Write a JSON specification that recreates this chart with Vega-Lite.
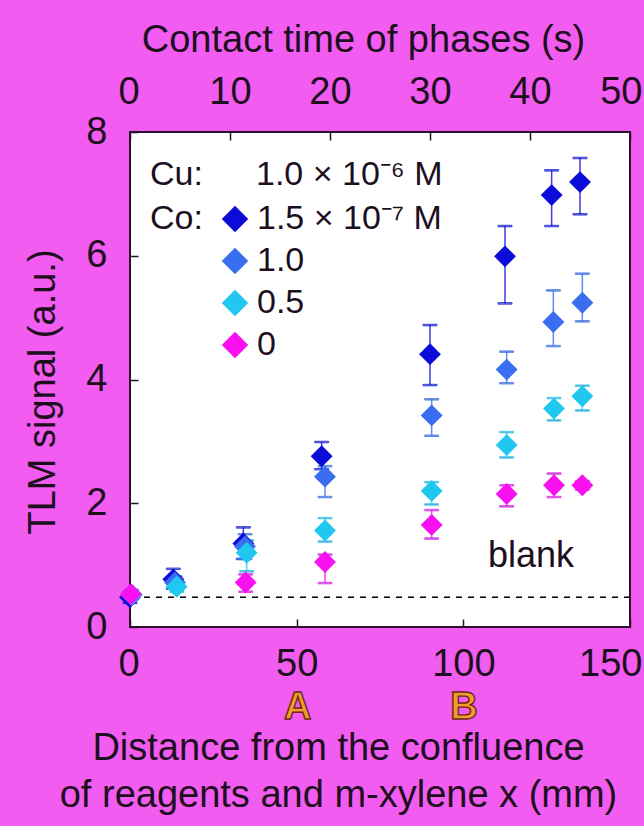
{
  "$schema": "https://vega.github.io/schema/vega-lite/v6.json",
  "width": 500,
  "height": 495,
  "autosize": "none",
  "padding": {"left": 130, "top": 132, "right": 14, "bottom": 199},
  "background": "#f25cf0",
  "config": {
    "view": {"fill": "white", "stroke": "#2a102a", "strokeWidth": 2},
    "font": "Liberation Sans"
  },
  "datasets": {
    "tlm": [
      {"co": "1.5 × 10⁻⁷ M", "x": 0, "y": 0.48, "lo": 0.39, "hi": 0.57},
      {"co": "1.5 × 10⁻⁷ M", "x": 13, "y": 0.77, "lo": 0.62, "hi": 0.94},
      {"co": "1.5 × 10⁻⁷ M", "x": 34, "y": 1.35, "lo": 1.1, "hi": 1.61},
      {"co": "1.5 × 10⁻⁷ M", "x": 57.5, "y": 2.76, "lo": 2.55, "hi": 2.99},
      {"co": "1.5 × 10⁻⁷ M", "x": 90, "y": 4.41, "lo": 3.91, "hi": 4.88},
      {"co": "1.5 × 10⁻⁷ M", "x": 112.5, "y": 5.99, "lo": 5.23, "hi": 6.48},
      {"co": "1.5 × 10⁻⁷ M", "x": 126.5, "y": 6.98, "lo": 6.48, "hi": 7.38},
      {"co": "1.5 × 10⁻⁷ M", "x": 135, "y": 7.19, "lo": 6.67, "hi": 7.58},
      {"co": "1.0", "x": 0.5, "y": 0.52, "lo": 0.45, "hi": 0.6},
      {"co": "1.0", "x": 13.5, "y": 0.72, "lo": 0.62, "hi": 0.82},
      {"co": "1.0", "x": 34.5, "y": 1.3, "lo": 1.1, "hi": 1.5},
      {"co": "1.0", "x": 58.5, "y": 2.43, "lo": 2.1, "hi": 2.6},
      {"co": "1.0", "x": 90.5, "y": 3.42, "lo": 3.09, "hi": 3.68},
      {"co": "1.0", "x": 113, "y": 4.16, "lo": 3.94, "hi": 4.45},
      {"co": "1.0", "x": 127, "y": 4.93, "lo": 4.54, "hi": 5.44},
      {"co": "1.0", "x": 135.7, "y": 5.24, "lo": 4.94, "hi": 5.71},
      {"co": "0.5", "x": 0.5, "y": 0.52, "lo": null, "hi": null},
      {"co": "0.5", "x": 14, "y": 0.65, "lo": 0.57, "hi": 0.75},
      {"co": "0.5", "x": 35, "y": 1.2, "lo": 0.9, "hi": 1.4},
      {"co": "0.5", "x": 58.5, "y": 1.56, "lo": 1.38, "hi": 1.76},
      {"co": "0.5", "x": 90.5, "y": 2.2, "lo": 1.98, "hi": 2.34},
      {"co": "0.5", "x": 113, "y": 2.94, "lo": 2.74, "hi": 3.15},
      {"co": "0.5", "x": 127.2, "y": 3.53, "lo": 3.34, "hi": 3.7},
      {"co": "0.5", "x": 135.7, "y": 3.73, "lo": 3.5, "hi": 3.9},
      {"co": "0", "x": 0.3, "y": 0.53, "lo": null, "hi": null},
      {"co": "0", "x": 34.7, "y": 0.72, "lo": 0.57, "hi": 0.85},
      {"co": "0", "x": 58.5, "y": 1.05, "lo": 0.71, "hi": 1.17},
      {"co": "0", "x": 90.5, "y": 1.65, "lo": 1.43, "hi": 1.89},
      {"co": "0", "x": 113, "y": 2.15, "lo": 1.95, "hi": 2.29},
      {"co": "0", "x": 127.2, "y": 2.29, "lo": 2.1, "hi": 2.48},
      {"co": "0", "x": 135.7, "y": 2.29, "lo": 2.22, "hi": 2.36}
    ],
    "time": [{"t": 0}, {"t": 50}]
  },
  "resolve": {"scale": {"x": "independent"}},
  "layer": [
    {
      "data": {"name": "time"},
      "mark": {"type": "point", "opacity": 0},
      "encoding": {
        "x": {
          "field": "t", "type": "quantitative",
          "scale": {"domain": [0, 50], "nice": false, "zero": false},
          "axis": {
            "orient": "top", "values": [0, 10, 20, 30, 40, 50], "format": "d",
            "tickSize": -8, "tickWidth": 1.5, "tickColor": "#2a102a",
            "domain": false, "grid": false,
            "labelFontSize": 38, "labelColor": "#1e0f1e", "labelFlush": true, "labelFlushOffset": 12, "labelOverlap": false,
            "labelPadding": 48, "labelBaseline": "middle",
            "title": "Contact time of phases (s)", "titleFontSize": 38, "titleFontWeight": "normal",
            "titleColor": "#1e0f1e", "titleX": 233, "titleY": -81, "titleAlign": "center", "titleBaseline": "alphabetic"
          }
        }
      }
    },
    {
      "data": {"name": "tlm"},
      "layer": [
        {
          "data": {"values": [{}]},
          "mark": {"type": "rule", "strokeDash": [6, 6], "color": "black", "strokeWidth": 1.5},
          "encoding": {"y": {"datum": 0.48}}
        },
        {
          "transform": [{"filter": "isValid(datum.lo)"}],
          "mark": {"type": "errorbar", "ticks": {"size": 14, "thickness": 1.5, "opacity": 0.8}, "rule": {"strokeWidth": 1.5, "opacity": 0.8}},
          "encoding": {
            "x": {"field": "x", "type": "quantitative", "title": ["Distance from the confluence", "of reagents and m-xylene x (mm)"]},
            "y": {"field": "lo", "type": "quantitative", "title": "TLM signal (a.u.)"},
            "y2": {"field": "hi"},
            "stroke": {"field": "co", "type": "nominal",
              "scale": {"domain": ["1.5 × 10⁻⁷ M", "1.0", "0.5", "0"], "range": ["#0c0cd8", "#3a6ef0", "#20c8f0", "#f810f0"]}}
          }
        },
        {
          "mark": {"type": "point", "shape": "diamond", "filled": true, "size": 480, "opacity": 1},
          "encoding": {
            "x": {
              "field": "x", "type": "quantitative",
              "scale": {"domain": [0, 150], "nice": false, "zero": false},
              "axis": {
                "orient": "bottom", "values": [0, 50, 100, 150], "format": "d",
                "tickSize": -8, "tickWidth": 1.5, "tickColor": "#2a102a",
                "domain": false, "grid": false,
                "labelFontSize": 38, "labelColor": "#1e0f1e", "labelFlush": true, "labelFlushOffset": 12, "labelOverlap": false,
                "labelPadding": 45, "labelBaseline": "middle",
                "titleFontSize": 38, "titleFontWeight": "normal", "titleColor": "#1e0f1e",
                "titleX": 208, "titleY": 132, "titleAlign": "center", "titleBaseline": "alphabetic", "titleLineHeight": 47
              },
              "title": ["Distance from the confluence", "of reagents and m-xylene x (mm)"]
            },
            "y": {
              "field": "y", "type": "quantitative",
              "scale": {"domain": [0, 8], "nice": false, "zero": false},
              "axis": {
                "values": [0, 2, 4, 6, 8], "format": "d",
                "tickSize": -8, "tickWidth": 1.5, "tickColor": "#2a102a",
                "domain": false, "grid": false,
                "labelFontSize": 38, "labelColor": "#1e0f1e", "labelFlush": false, "labelOverlap": false,
                "labelPadding": 31,
                "titleFontSize": 38, "titleFontWeight": "normal", "titleColor": "#1e0f1e",
                "titleX": -76, "titleY": 259.5, "titleAngle": -90, "titleAlign": "center", "titleBaseline": "alphabetic"
              },
              "title": "TLM signal (a.u.)"
            },
            "color": {
              "field": "co", "type": "nominal",
              "scale": {"domain": ["1.5 × 10⁻⁷ M", "1.0", "0.5", "0"], "range": ["#0c0cd8", "#3a6ef0", "#20c8f0", "#f810f0"]},
              "legend": {
                "orient": "none", "legendX": 20, "legendY": 70, "direction": "vertical", "padding": 0,
                "title": "Co:", "titleOrient": "left", "titleAnchor": "start",
                "titleFontSize": 34, "titleFontWeight": "normal", "titleColor": "#1e0f1e", "titlePadding": 15,
                "labelFontSize": 34, "labelColor": "#1e0f1e", "labelOffset": 5, "labelLimit": 400,
                "symbolType": "diamond", "symbolSize": 700, "symbolStrokeWidth": 0, "symbolOpacity": 1, "rowPadding": 8,
                "encode": {"symbols": {"update": {"opacity": {"value": 1}, "fillOpacity": {"value": 1}, "strokeOpacity": {"value": 0}}}}
              }
            }
          }
        },
        {
          "data": {"values": [{}]},
          "mark": {"type": "text", "text": "Cu:", "align": "left", "baseline": "middle", "fontSize": 34, "color": "#1e0f1e"},
          "encoding": {"x": {"datum": 6}, "y": {"datum": 7.3}}
        },
        {
          "data": {"values": [{}]},
          "mark": {"type": "text", "text": "1.0 × 10⁻⁶ M", "align": "left", "baseline": "middle", "fontSize": 34, "color": "#1e0f1e"},
          "encoding": {"x": {"datum": 37.8}, "y": {"datum": 7.3}}
        },
        {
          "data": {"values": [{}]},
          "mark": {"type": "text", "text": "blank", "align": "center", "baseline": "middle", "fontSize": 36, "color": "#1e0f1e"},
          "encoding": {"x": {"datum": 120.3}, "y": {"datum": 1.14}}
        },
        {
          "data": {"values": [{}]},
          "mark": {"type": "text", "text": "A", "align": "center", "baseline": "middle", "fontSize": 38, "fontWeight": "bold", "fill": "#f29a2e", "stroke": "#6a2a10", "strokeWidth": 1.4},
          "encoding": {"x": {"datum": 50.3}, "y": {"datum": -1.31}}
        },
        {
          "data": {"values": [{}]},
          "mark": {"type": "text", "text": "B", "align": "center", "baseline": "middle", "fontSize": 38, "fontWeight": "bold", "fill": "#f29a2e", "stroke": "#6a2a10", "strokeWidth": 1.4},
          "encoding": {"x": {"datum": 100.2}, "y": {"datum": -1.31}}
        }
      ]
    }
  ]
}
